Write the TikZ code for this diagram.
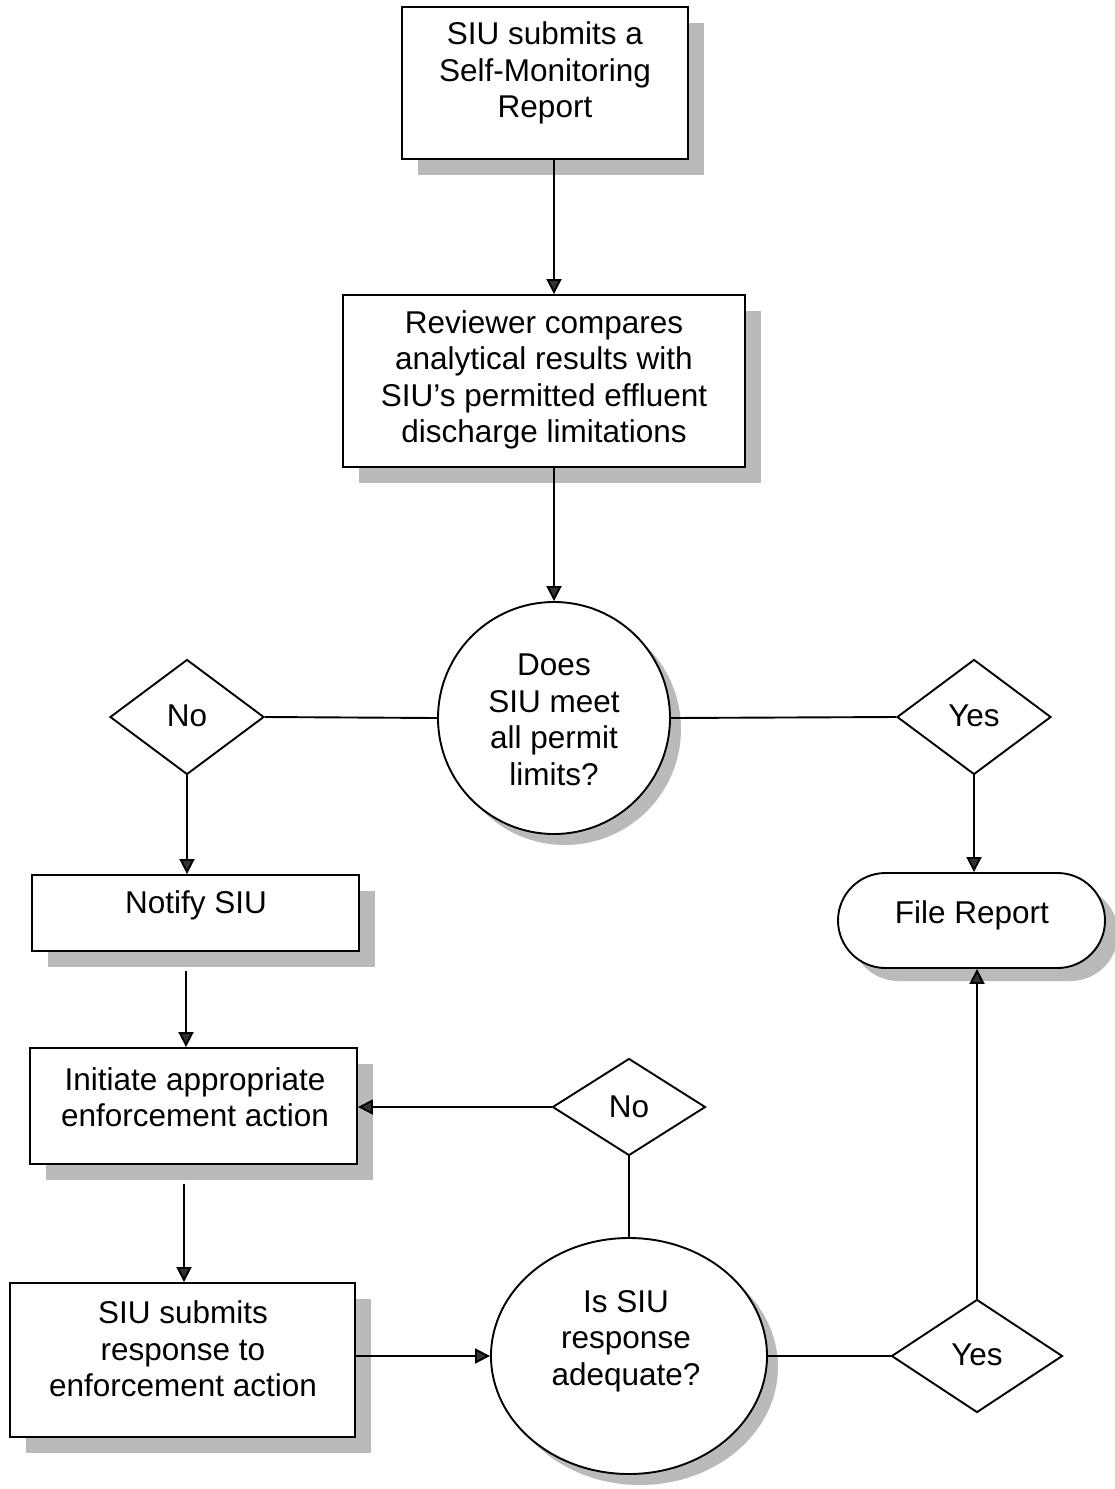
\documentclass[tikz,border=0pt]{standalone}
\usepackage{fontspec}
\setmainfont{Liberation Sans}
\usetikzlibrary{arrows.meta,shapes.geometric,shapes.misc,shadows}

\begin{document}
\begin{tikzpicture}[x=1pt,y=-1pt,
  every node/.style={font=\fontsize{31.5}{36.5}\selectfont},
  shadowed/.style={drop shadow={shadow xshift=#1,shadow yshift=-#1,fill=black!27,opacity=1}},
  outline/.style={draw,line width=1.9pt,fill=white,inner sep=0pt},
  stepbox/.style={outline,rectangle,shadowed=16pt},
  decision/.style={outline,circle,shadowed=11pt},
  choice/.style={outline,diamond},
  terminal/.style={outline,rounded rectangle,shadowed=13pt},
  txt/.style={align=center,inner sep=0pt},
  conn/.style={line width=1.9pt},
  arr/.style={conn,-{Triangle[length=15pt,width=15pt,fill=black!80]}}
]
\useasboundingbox (0,0) rectangle (1115,1489);

% process boxes
\node[stepbox,minimum width=286pt,minimum height=152pt] (b1) at (545,83) {};
\node[txt] (t1) at (545,73) {SIU submits a\\Self-Monitoring\\Report};

\node[stepbox,minimum width=402pt,minimum height=172pt] (b2) at (544,381) {};
\node[txt] (t2) at (544,380) {Reviewer compares\\analytical results with\\SIU’s permitted effluent\\discharge limitations};

% first decision
\node[decision,minimum size=232pt] (c1) at (554,718) {};
\node[txt] (tc1) at (554,720) {Does\\SIU meet\\all permit\\limits?};

\node[choice,minimum width=154pt,minimum height=115pt] (dn1) at (187,717) {};
\node[txt] (tdn1) at (187,716) {No};
\node[choice,minimum width=154pt,minimum height=115pt] (dy1) at (974,717) {};
\node[txt] (tdy1) at (974,716) {Yes};

\node[stepbox,minimum width=327pt,minimum height=76pt] (n1) at (195.5,913) {};
\node[txt] (tn1) at (196,905) {Notify SIU};

\node[terminal,minimum width=267pt,minimum height=95pt] (fr) at (971.5,920.5) {};
\node[txt] (tfr) at (972,915) {File Report};

\node[stepbox,minimum width=327pt,minimum height=116pt] (b3) at (193.5,1106) {};
\node[txt] (t3) at (195,1097) {Initiate appropriate\\enforcement action};

\node[stepbox,minimum width=345pt,minimum height=154pt] (b4) at (182.5,1360) {};
\node[txt] (t4) at (183,1349) {SIU submits\\response to\\enforcement action};

% second decision
\node[decision,ellipse,minimum width=276pt,minimum height=236pt] (e2) at (629,1356) {};
\node[txt] (te2) at (626,1341) {Is SIU\\response\\adequate?};

\node[choice,minimum width=153pt,minimum height=97pt] (dn2) at (629,1107) {};
\node[txt] (tdn2) at (629,1107) {No};
\node[choice,minimum width=171pt,minimum height=113pt] (dy2) at (977,1356) {};
\node[txt] (tdy2) at (977,1355) {Yes};

% connectors
\draw[arr] (b1.south -| c1.north) -- (b2.north -| c1.north);
\draw[arr] (b2.south -| c1.north) -- (c1.north);
\draw[conn] (dn1.east) -- (c1.west);
\draw[conn] (c1.east) -- (dy1.west);
\draw[arr] (dn1.south) -- (dn1.south |- n1.north);
\draw[arr] (dy1.south) -- (dy1.south |- fr.north);
\draw[arr] ([xshift=-9.5pt,yshift=-19pt]n1.south) -- ([xshift=-7.5pt]b3.north);
\draw[arr] ([xshift=-9.5pt,yshift=-19pt]b3.south) -- ([xshift=1.5pt]b4.north);
\draw[arr] (b4.east |- e2.west) -- (e2.west);
\draw[conn] (e2.north) -- (dn2.south);
\draw[arr] (dn2.west) -- (dn2.west -| b3.east);
\draw[conn] (e2.east) -- (dy2.west);
\draw[arr] (dy2.north) -- (dy2.north |- fr.south);
\end{tikzpicture}
\end{document}
